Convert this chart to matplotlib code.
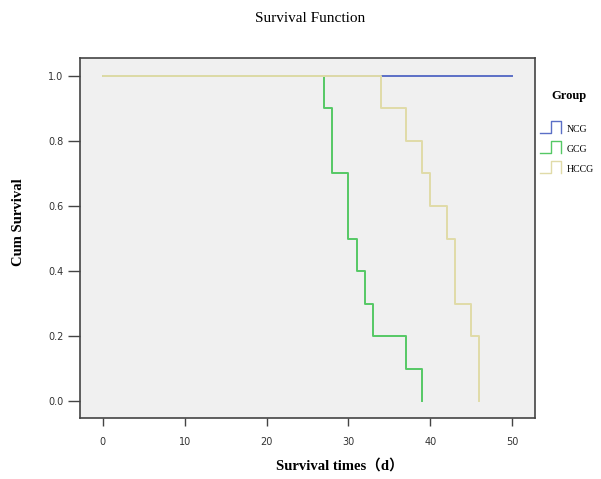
import matplotlib
matplotlib.use("Agg")
import matplotlib.pyplot as plt
from matplotlib.legend_handler import HandlerBase
from matplotlib.lines import Line2D

# Kaplan-Meier step data (time, survival)
ncg_t = [0, 50]
ncg_s = [1.0, 1.0]
gcg_t = [0, 27, 28, 30, 31, 32, 33, 37, 39]
gcg_s = [1.0, 0.9, 0.7, 0.5, 0.4, 0.3, 0.2, 0.1, 0.0]
hccg_t = [0, 34, 37, 39, 40, 42, 43, 45, 46]
hccg_s = [1.0, 0.9, 0.8, 0.7, 0.6, 0.5, 0.3, 0.2, 0.0]

groups = ["NCG", "GCG", "HCCG"]
colors = ["#5b6fc6", "#55c865", "#e0dba8"]

x_ticks = [0, 10, 20, 30, 40, 50]
y_ticks = [0.0, 0.2, 0.4, 0.6, 0.8, 1.0]


class StepHandler(HandlerBase):
    def create_artists(self, legend, orig_handle, xdescent, ydescent,
                       width, height, fontsize, trans):
        w, h = width, height
        xs = [0, w * 0.45, w * 0.45, w * 0.9, w * 0.9]
        ys = [-h * 0.1, -h * 0.1, h * 0.9, h * 0.9, -h * 0.1]
        ln = Line2D(xs, ys, color=orig_handle.get_color(), lw=1.0, transform=trans)
        return [ln]


fig = plt.figure(figsize=(6.01, 4.79), dpi=100)
ax = fig.add_axes([0.1331, 0.1273, 0.7570, 0.7516])
ax.set_facecolor("#f0f0f0")

handles = []
for t, s, c in zip([ncg_t, gcg_t, hccg_t], [ncg_s, gcg_s, hccg_s], colors):
    h, = ax.step(t, s, where="post", color=c, lw=1.4)
    handles.append(h)

ax.set_xlim(-2.8, 52.8)
ax.set_ylim(-0.052, 1.055)
ax.set_xticks(x_ticks)
ax.set_yticks(y_ticks)
ax.set_yticklabels([f"{v:.1f}" for v in y_ticks])

for sp in ax.spines.values():
    sp.set_color("#444444")
    sp.set_linewidth(1.2)

ax.tick_params(axis="y", length=9, width=1.0, color="#444444", pad=3,
               labelsize=7, labelcolor="#333333")
ax.tick_params(axis="x", length=6, width=1.0, color="#444444", pad=8,
               labelsize=7, labelcolor="#333333")
for lab in ax.get_xticklabels() + ax.get_yticklabels():
    lab.set_family("DejaVu Sans")

fig.text(0.516, 0.962, "Survival Function", ha="center", va="center",
         family="Liberation Serif", fontsize=11)
fig.text(0.565, 0.028, "Survival times（d）", ha="center", va="center",
         family=["Liberation Serif", "Noto Sans CJK SC"], fontsize=10.5,
         fontweight="bold")
fig.text(0.03, 0.537, "Cum Survival", ha="center", va="center", rotation=90,
         family="Liberation Serif", fontsize=10.5, fontweight="bold")

fig.text(0.947, 0.800, "Group", ha="center", va="center",
         family="Liberation Serif", fontsize=9, fontweight="bold")
leg = fig.legend(handles, groups, loc="upper left", bbox_to_anchor=(0.888, 0.758),
                 frameon=False, handler_map={Line2D: StepHandler()},
                 prop={"family": "Liberation Serif", "size": 7},
                 handlelength=2.4, handleheight=1.5, handletextpad=0.3,
                 labelspacing=0.85, borderpad=0.2)

fig.savefig("out.png", dpi=100)
